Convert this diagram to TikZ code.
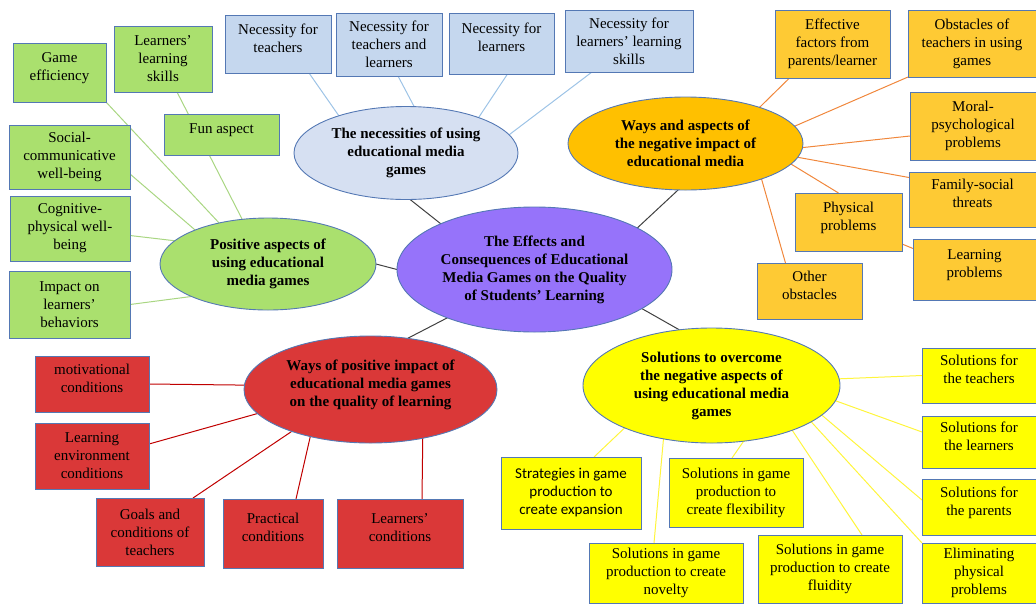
\documentclass[tikz,border=0pt]{standalone}
\usepackage{fontspec}
\setmainfont{Liberation Serif}
\newfontfamily\calfont{Carlito}
\usetikzlibrary{shapes.geometric,backgrounds}

\definecolor{edgeblue}{RGB}{84,120,180}
\definecolor{leafgreen}{RGB}{170,224,110}
\definecolor{skyfill}{RGB}{197,215,238}
\definecolor{skyoval}{RGB}{214,224,242}
\definecolor{amber}{RGB}{255,192,0}
\definecolor{gold}{RGB}{254,202,52}
\definecolor{violet}{RGB}{150,115,250}
\definecolor{brick}{RGB}{218,56,56}
\definecolor{lemon}{RGB}{255,255,0}
\definecolor{greenline}{RGB}{169,214,130}
\definecolor{blueline}{RGB}{157,195,230}
\definecolor{orangeline}{RGB}{240,135,60}
\definecolor{redline}{RGB}{192,0,0}
\definecolor{yellowline}{RGB}{255,245,60}
\definecolor{hubline}{RGB}{64,64,64}

\begin{document}
\begin{tikzpicture}[
		x=1pt, y=-1pt,
		every node/.style={draw=edgeblue, line width=0.9pt, inner sep=2pt, outer sep=0pt,
			align=center, font=\fontsize{15}{18}\selectfont},
		dims/.style 2 args={minimum width=#1pt, minimum height=#2pt},
		topic/.style={ellipse, font=\fontsize{15}{18}\selectfont\bfseries},
		lift/.style={text depth=12pt},
		gbox/.style={rectangle, fill=leafgreen},
		bbox/.style={rectangle, fill=skyfill},
		obox/.style={rectangle, fill=gold},
		rbox/.style={rectangle, fill=brick},
		ybox/.style={rectangle, fill=lemon},
		gline/.style={draw=greenline, line width=1pt},
		bline/.style={draw=blueline, line width=1pt},
		oline/.style={draw=orangeline, line width=1pt},
		rline/.style={draw=redline, line width=1pt},
		yline/.style={draw=yellowline, line width=1pt},
		hline/.style={draw=hubline, line width=1pt}
	]
  \useasboundingbox (0, 0) rectangle (1036, 603);

  % centre and the five topics
  \node (hub) [topic, fill=violet, dims={275}{125}] at (534.5, 269.5) {The Effects and\\Consequences of Educational\\Media Games on the Quality\\of Students' Learning};
  \node (need) [topic, fill=skyoval, dims={224}{93}] at (406, 153) {The necessities of using\\educational media\\games};
  \node (pos) [topic, fill=leafgreen, dims={216}{92}] at (268, 264) {Positive aspects of\\using educational\\media games};
  \node (neg) [topic, fill=amber, dims={235}{93}] at (685.5, 143.5) {Ways and aspects of\\the negative impact of\\educational media};
  \node (way) [topic, fill=brick, lift, dims={253}{107}] at (370.5, 389.5) {Ways of positive impact of\\educational media games\\on the quality of learning};
  \node (sol) [topic, fill=lemon, dims={257}{115}] at (711.5, 385.5) {Solutions to overcome\\the negative aspects of\\using educational media\\games};

  % necessities
  \node (nteach) [bbox, lift, dims={106}{58}] at (278, 44) {Necessity for\\teachers};
  \node (nboth) [bbox, dims={106}{63}] at (389, 44.5) {Necessity for\\teachers and\\learners};
  \node (nlearn) [bbox, lift, dims={105}{61}] at (501.5, 43.5) {Necessity for\\learners};
  \node (nskill) [bbox, dims={128}{62}] at (629, 41) {Necessity for\\learners' learning\\skills};

  % positive aspects
  \node (geff) [gbox, lift, dims={93}{59}] at (59.5, 72.5) {Game\\efficiency};
  \node (lskill) [gbox, dims={98}{66}] at (163, 59) {Learners'\\learning\\skills};
  \node (fun) [gbox, lift, dims={115}{41}] at (221.5, 134.5) {Fun aspect};
  \node (social) [gbox, dims={121}{64}] at (69.5, 157) {Social-\\communicative\\well-being};
  \node (cogn) [gbox, dims={120}{65}] at (70, 228.5) {Cognitive-\\physical well-\\being};
  \node (impact) [gbox, dims={121}{67}] at (69.5, 304.5) {Impact on\\learners'\\behaviors};

  % negative impact
  \node (effect) [obox, dims={115}{68}] at (832.5, 44) {Effective\\factors from\\parents/learner};
  \node (obst) [obox, dims={128}{67}] at (972, 43.5) {Obstacles of\\teachers in using\\games};
  \node (moral) [obox, dims={126}{68}] at (973, 126) {Moral-\\psychological\\problems};
  \node (family) [obox, lift, dims={127}{55}] at (972.5, 199.5) {Family-social\\threats};
  \node (learnp) [obox, lift, dims={123}{61}] at (974.5, 269.5) {Learning\\problems};
  \node (phys) [obox, lift, dims={107}{58}] at (848.5, 222) {Physical\\problems};
  \node (other) [obox, lift, dims={105}{56}] at (809.5, 291) {Other\\obstacles};

  % positive impact
  \node (motiv) [rbox, lift, dims={114}{56}] at (92, 384) {motivational\\conditions};
  \node (env) [rbox, dims={114}{66}] at (92, 456) {Learning\\environment\\conditions};
  \node (goals) [rbox, dims={108}{68}] at (150, 532) {Goals and\\conditions of\\teachers};
  \node (pract) [rbox, lift, dims={100}{69}] at (273, 533.5) {Practical\\conditions};
  \node (lcond) [rbox, lift, dims={126}{69}] at (400, 533.5) {Learners'\\conditions};

  % solutions
  \node (strat) [ybox, font=\fontsize{15}{18}\calfont, dims={140}{72}] at (571, 493) {Strategies in game\\production to\\create expansion};
  \node (flex) [ybox, dims={134}{69}] at (736, 492.5) {Solutions in game\\production to\\create flexibility};
  \node (novel) [ybox, dims={154}{60}] at (666, 573) {Solutions in game\\production to create\\novelty};
  \node (fluid) [ybox, dims={144}{68}] at (830, 569) {Solutions in game\\production to create\\fluidity};
  \node (steach) [ybox, lift, dims={114}{55}] at (979, 375.5) {Solutions for\\the teachers};
  \node (slearn) [ybox, lift, dims={114}{52}] at (979, 442) {Solutions for\\the learners};
  \node (sparent) [ybox, lift, dims={114}{56}] at (979, 507) {Solutions for\\the parents};
  \node (elim) [ybox, dims={114}{60}] at (979, 573) {Eliminating\\physical\\problems};

  \begin{scope}[on background layer]
    \draw [hline] (hub.154) -- (need.-85);
    \draw [hline] (hub.22) -- (neg.-99);
    \draw [hline] (hub.west) -- (pos.east);
    \draw [hline] (hub.-151) -- (way.54);
    \draw [hline] (hub.-20) -- (sol.120);

    \draw [bline] ([xshift=31pt]nteach.south) -- (need.151);
    \draw [bline] ([xshift=9pt]nboth.south) -- (need.80);
    \draw [bline] ([xshift=6pt]nlearn.south) -- (need.26);
    \draw [bline] ([xshift=-37pt]nskill.south) -- (need.10);

    \draw [gline] (geff.south east) -- (pos.140);
    \draw [gline] ([xshift=14pt]lskill.south) -- (pos.120);
    \draw [gline] ([yshift=-17pt]social.east) -- (pos.155);
    \draw [gline] ([yshift=-7pt]cogn.east) -- (pos.166);
    \draw [gline] (impact.east) -- (pos.-157);

    \draw [oline] ([xshift=-43pt]effect.south) -- (neg.26);
    \draw [oline] (obst.south west) -- (neg.9);
    \draw [oline] ([yshift=-10pt]moral.west) -- (neg.-2);
    \draw [oline] ([yshift=22pt]family.west) -- (neg.-7);
    \draw [oline] ([xshift=-10pt]phys.north) -- (neg.-11);
    \draw [oline] (phys.center) -- ([yshift=21pt]learnp.west);
    \draw [oline] ([xshift=-24pt]other.north) -- (neg.-25);

    \draw [rline] (motiv.east) -- (way.178);
    \draw [rline] ([yshift=12pt]env.east) -- (way.-168);
    \draw [rline] ([xshift=43pt]goals.north) -- (way.-152);
    \draw [rline] ([xshift=23pt]pract.north) -- (way.-142);
    \draw [rline] ([xshift=22pt]lcond.north) -- (way.-43);

    \draw [yline] (steach.west) -- (sol.3);
    \draw [yline] ([yshift=10pt]slearn.west) -- (sol.-7);
    \draw [yline] ([yshift=7pt]sparent.west) -- (sol.-15);
    \draw [yline] (elim.north west) -- (sol.-20);
    \draw [yline] ([xshift=32pt]fluid.north) -- (sol.-29);
    \draw [yline] ([xshift=-4pt]flex.north) -- (sol.-60);
    \draw [yline] ([xshift=-12pt]novel.north) -- (sol.-132);
    \draw [yline] ([xshift=23pt]strat.north) -- (sol.-154);
  \end{scope}
\end{tikzpicture}
\end{document}
